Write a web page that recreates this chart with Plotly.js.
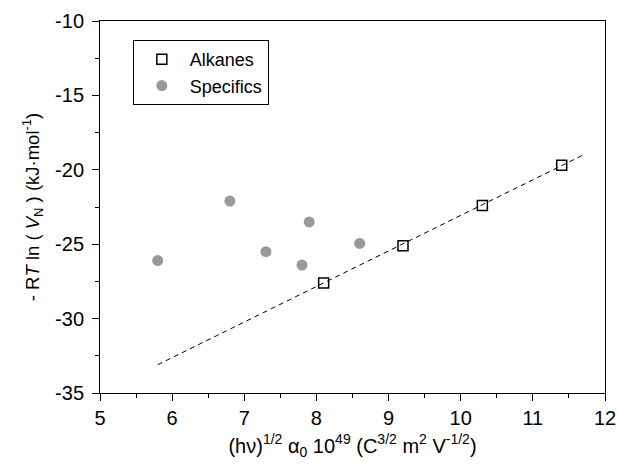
<!DOCTYPE html>
<html>
<head>
<meta charset="utf-8">
<script src="https://cdn.plot.ly/plotly-3.0.1.min.js"></script>
<style>html,body{margin:0;padding:0;background:#fff;}#chart{width:617px;height:475px;}</style>
</head>
<body>
<div id="chart"></div>
<script>
// Data
var alkanesX = [8.1, 9.2, 10.3, 11.4];
var alkanesY = [-27.6, -25.1, -22.4, -19.7];
var specificsX = [5.8, 6.8, 7.3, 7.8, 7.9, 8.6];
var specificsY = [-26.1, -22.1, -25.5, -26.4, -23.5, -24.95];
var fitX = [5.8, 11.7];
var fitY = [-33.1, -19.0];
var xTickVals = [5, 6, 7, 8, 9, 10, 11, 12];
var xTickText = ['5', '6', '7', '8', '9', '10', '11', '12'];
var yTickVals = [-35, -30, -25, -20, -15, -10];
var yTickText = ['-35', '-30', '-25', '-20', '-15', '-10'];

var font = 'Arial, "Liberation Sans", sans-serif';

var traces = [
  {
    x: fitX, y: fitY, mode: 'lines', showlegend: false, hoverinfo: 'skip',
    line: {color: '#000', width: 1, dash: '5px,4px'}
  },
  {
    x: alkanesX, y: alkanesY, mode: 'markers', name: 'Alkanes',
    marker: {symbol: 'square-open', size: 10, color: '#000', line: {width: 1.5, color: '#000'}}
  },
  {
    x: specificsX, y: specificsY, mode: 'markers', name: 'Specifics',
    marker: {symbol: 'circle', size: 11, color: '#999999'}
  }
];

var layout = {
  width: 617, height: 475,
  margin: {l: 100, r: 12, t: 21, b: 82},
  paper_bgcolor: '#fff', plot_bgcolor: '#fff',
  font: {family: font, size: 20, color: '#000'},
  showlegend: true,
  legend: {
    x: 0.065, y: 0.949, xanchor: 'left', yanchor: 'top',
    bordercolor: '#000', borderwidth: 1, bgcolor: '#fff',
    font: {family: font, size: 18, color: '#000'},
    itemwidth: 46, tracegroupgap: 0
  },
  xaxis: {
    range: [5, 12], tickvals: xTickVals, ticktext: xTickText, ticks: 'outside', ticklen: 7, tickwidth: 1,
    tickcolor: '#000', showgrid: false, zeroline: false,
    showline: true, linecolor: '#000', linewidth: 1, mirror: true,
    minor: {dtick: 0.5, tick0: 5, ticks: 'outside', ticklen: 4, tickcolor: '#000', showgrid: false},
    tickfont: {family: font, size: 20},
    title: {text: '(hν)<sup>1/2</sup> α<sub>0</sub> 10<sup>49</sup> (C<sup>3/2</sup> m<sup>2</sup> V<sup>-1/2</sup>)',
            font: {family: font, size: 20}, standoff: 10}
  },
  yaxis: {
    range: [-35, -10], tickvals: yTickVals, ticktext: yTickText, ticks: 'outside', ticklen: 7, tickwidth: 1,
    tickcolor: '#000', showgrid: false, zeroline: false,
    showline: true, linecolor: '#000', linewidth: 1, mirror: true,
    minor: {dtick: 2.5, tick0: -35, ticks: 'outside', ticklen: 4, tickcolor: '#000', showgrid: false},
    tickfont: {family: font, size: 20},
    ticklabelstandoff: 4,
    title: {text: '- R<i>T</i> ln ( <i>V</i><sub>N</sub> ) (kJ·mol<sup>-1</sup>)',
            font: {family: font, size: 18.5}, standoff: 10}
  }
};

Plotly.newPlot('chart', traces, layout, {displayModeBar: false, staticPlot: true});
</script>
</body>
</html>
